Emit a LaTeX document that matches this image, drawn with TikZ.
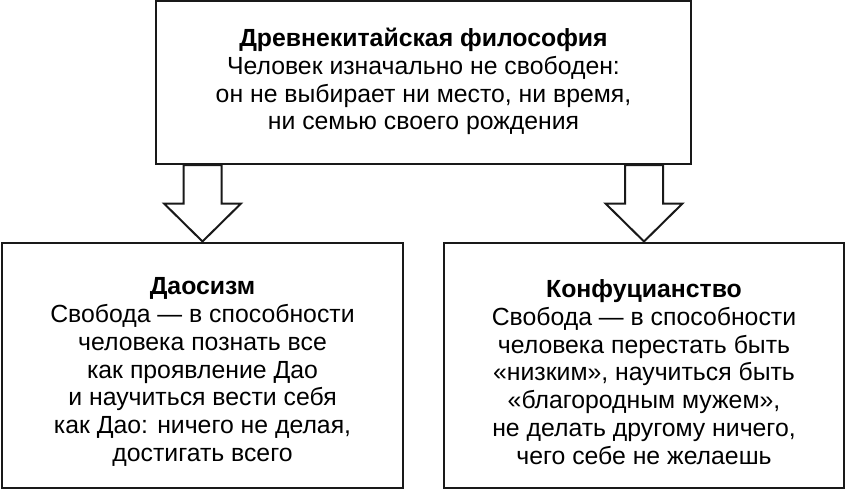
\documentclass[tikz,border=0pt]{standalone}
\usepackage{fontspec}
\setmainfont{Liberation Sans}
\usetikzlibrary{calc}
\begin{document}
\begin{tikzpicture}[x=1pt,y=-1pt,
  box/.style={draw=black!90, line width=2pt, inner sep=0pt},
  txt/.style={align=center, inner sep=0pt, font=\fontsize{24.8}{27.8}\selectfont},
  blockarrow/.style={draw=black!90, line width=2pt, fill=white, line join=miter}]
\useasboundingbox (0,0) rectangle (847,490);
\node[box, minimum width=535pt, minimum height=163pt] (top) at (423.5,82.5) {};
\node[txt] (toptext) at ($(top.center)+(0,-1)$)
  {\textbf{Древнекитайская философия}\\Человек изначально не свободен:\\он не выбирает ни место, ни время,\\ни семью своего рождения};
\node[box, minimum width=401pt, minimum height=245pt] (left) at (202.5,365) {};
\node[txt] (lefttext) at ($(left.center)+(0,7)$)
  {\textbf{Даосизм}\\Свобода — в способности\\человека познать все\\как проявление Дао\\и научиться вести себя\\как Дао: ничего не делая,\\достигать всего};
\node[box, minimum width=400pt, minimum height=245pt] (right) at (644,365) {};
\node[txt] (righttext) at ($(right.center)+(0,7)$)
  {\textbf{Конфуцианство}\\Свобода — в способности\\человека перестать быть\\«низким», научиться быть\\«благородным мужем»,\\не делать другому ничего,\\чего себе не желаешь};
\foreach \b in {left,right}{
  \coordinate (hl) at ($(\b.north)+(-38.5,-38)$);
  \coordinate (sl) at ($(\b.north)+(-19,-38)$);
  \coordinate (sr) at ($(\b.north)+(19,-38)$);
  \coordinate (hr) at ($(\b.north)+(38.5,-38)$);
  \draw[blockarrow] (\b.north) -- (hl) -- (sl) -- (sl |- top.south) -- (sr |- top.south) -- (sr) -- (hr) -- cycle;
}
\end{tikzpicture}
\end{document}
